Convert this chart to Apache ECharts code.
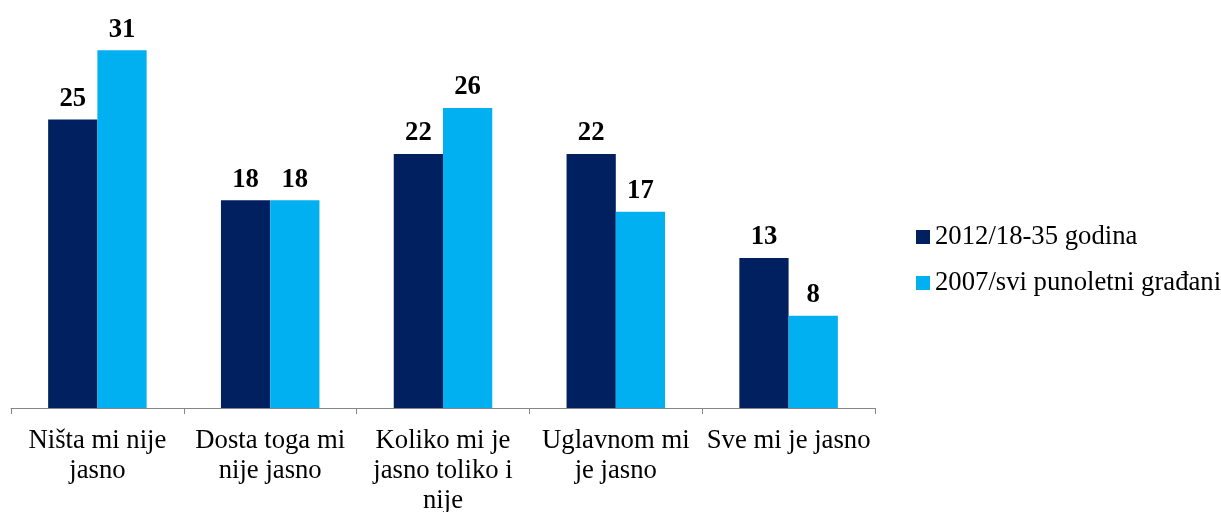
<!DOCTYPE html>
<html>
<head>
<meta charset="utf-8">
<script src="https://cdn.jsdelivr.net/npm/echarts@6/dist/echarts.min.js"></script>
<style>
html, body { margin: 0; padding: 0; background: #fff; }
#chart { width: 1221px; height: 512px; }
</style>
</head>
<body>
<div id="chart"></div>
<script>
// data
const categories = [
    'Ništa mi nije\njasno',
    'Dosta toga mi\nnije jasno',
    'Koliko mi je\njasno toliko i\nnije',
    'Uglavnom mi\nje jasno',
    'Sve mi je jasno'
];
const seriesNames = ['2012/18-35 godina', '2007/svi punoletni građani'];
const values2012 = [25, 18, 22, 22, 13];
const values2007 = [31, 18, 26, 17, 8];

const serif = '"Liberation Serif", "Times New Roman", serif';

let myChart = echarts.init(document.getElementById('chart'));

let labelStyle = {
    show: true,
    position: 'top',
    distance: 7,
    fontFamily: serif,
    fontSize: 26.7,
    fontWeight: 'bold',
    color: '#000'
};

let option = {
    animation: false,
    legend: {
        orient: 'vertical',
        left: 911,
        top: 217,
        itemWidth: 14,
        itemHeight: 14,
        itemGap: 16,
        icon: 'rect',
        textStyle: {
            fontFamily: serif,
            fontSize: 26.7,
            lineHeight: 30,
            color: '#000'
        },
        data: seriesNames
    },
    grid: {
        left: 11,
        right: 346,
        top: 4,
        bottom: 104,
        containLabel: false,
        outerBoundsMode: 'none'
    },
    xAxis: {
        type: 'category',
        data: categories,
        axisLine: { lineStyle: { color: '#868686', width: 1 } },
        axisTick: { show: true, length: 6, lineStyle: { color: '#868686' } },
        axisLabel: {
            interval: 0,
            margin: 18,
            fontFamily: serif,
            fontSize: 26.7,
            lineHeight: 30,
            color: '#000'
        }
    },
    yAxis: {
        type: 'value',
        min: 0,
        max: 35,
        show: false
    },
    series: [
        {
            name: seriesNames[0],
            type: 'bar',
            data: values2012,
            barGap: '0%',
            barCategoryGap: '43%',
            itemStyle: { color: '#002060' },
            label: labelStyle
        },
        {
            name: seriesNames[1],
            type: 'bar',
            data: values2007,
            itemStyle: { color: '#00B0F0' },
            label: labelStyle
        }
    ]
};

myChart.setOption(option);
</script>
</body>
</html>
